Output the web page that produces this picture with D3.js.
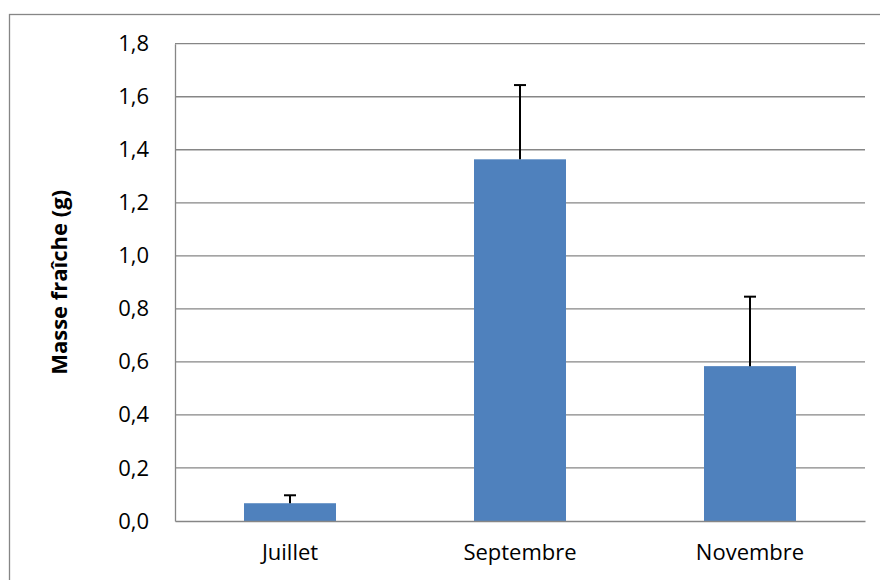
<!DOCTYPE html>
<html>
<head>
<meta charset="utf-8">
<script src="https://cdnjs.cloudflare.com/ajax/libs/d3/7.8.5/d3.min.js"></script>
<style>
  html, body { margin: 0; padding: 0; background: #fff; }
  svg { display: block; }
  text { font-family: "Open Sans", sans-serif; fill: #000; }
</style>
</head>
<body>
<script>
const categories = ["Juillet", "Septembre", "Novembre"];
const values = [0.067, 1.364, 0.584];
const errors = [0.030, 0.280, 0.262];
const yTicks = [0, 0.2, 0.4, 0.6, 0.8, 1.0, 1.2, 1.4, 1.6, 1.8];
const yTitle = "Masse fraîche (g)";

const W = 880, H = 580;
const plot = { left: 175, right: 865, top: 43.7, bottom: 521 };

const svg = d3.select("body").append("svg").attr("width", W).attr("height", H);

// outer chart border (extends past the right/bottom edges)
svg.append("rect")
  .attr("x", 9.5).attr("y", 14.5)
  .attr("width", W + 20).attr("height", H + 20)
  .attr("fill", "#fff").attr("stroke", "#868686").attr("stroke-width", 1.3);

const x = d3.scaleBand().domain(categories).range([plot.left, plot.right]).paddingInner(0.6).paddingOuter(0.3);
const y = d3.scaleLinear().domain([0, 1.8]).range([plot.bottom, plot.top]);

// gridlines
svg.append("g").selectAll("line").data(yTicks.filter(d => d > 0)).join("line")
  .attr("x1", plot.left).attr("x2", plot.right)
  .attr("y1", d => y(d)).attr("y2", d => y(d))
  .attr("stroke", "#868686").attr("stroke-width", 1.3);

// y axis
const yAxis = d3.axisLeft(y).tickValues(yTicks).tickSize(0).tickPadding(26)
  .tickFormat(d => d3.format(".1f")(d).replace(".", ","));
const gy = svg.append("g").attr("transform", `translate(${plot.left},0)`).call(yAxis);
gy.select(".domain").attr("stroke", "#868686").attr("stroke-width", 1.3);
gy.selectAll("text").style("font-family", "'Open Sans', sans-serif").style("font-size", "22px").attr("fill", "#000");

// bars
svg.append("g").selectAll("rect").data(categories).join("rect")
  .attr("x", d => x(d))
  .attr("width", x.bandwidth())
  .attr("y", (d, i) => y(values[i]))
  .attr("height", (d, i) => y(0) - y(values[i]))
  .attr("fill", "#4F81BD");

// error bars (upper only)
const eb = svg.append("g").attr("stroke", "#000").attr("stroke-width", 2);
categories.forEach((c, i) => {
  const cx = x(c) + x.bandwidth() / 2;
  eb.append("line").attr("x1", cx).attr("x2", cx)
    .attr("y1", y(values[i])).attr("y2", y(values[i] + errors[i]));
  eb.append("line").attr("x1", cx - 6).attr("x2", cx + 6)
    .attr("y1", y(values[i] + errors[i])).attr("y2", y(values[i] + errors[i]));
});

// x axis
const xAxisScale = d3.scaleBand().domain(categories).range([plot.left, plot.right]);
const xAxis = d3.axisBottom(xAxisScale).tickSize(0).tickPadding(23);
const gx = svg.append("g").attr("transform", `translate(0,${plot.bottom})`).call(xAxis);
gx.select(".domain").attr("stroke", "#868686").attr("stroke-width", 1.3);
gx.selectAll("text").style("font-family", "'Open Sans', sans-serif").style("font-size", "22px").attr("fill", "#000");

// y title
svg.append("text")
  .attr("transform", `translate(67,${(plot.top + plot.bottom) / 2}) rotate(-90)`)
  .attr("text-anchor", "middle")
  .style("font-size", "22px").style("font-weight", "bold")
  .text(yTitle);
</script>
</body>
</html>
